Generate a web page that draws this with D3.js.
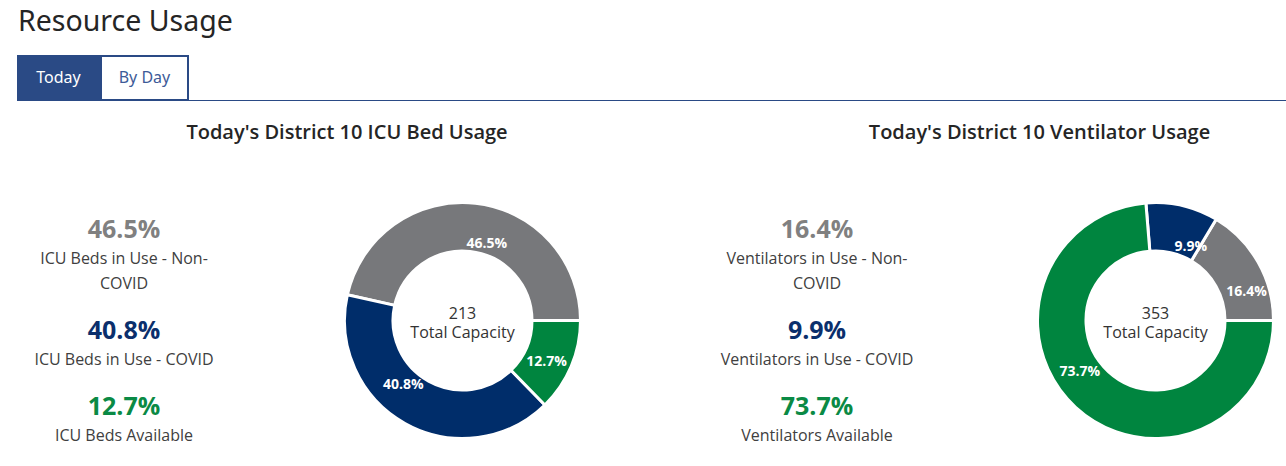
<!DOCTYPE html>
<html><head><meta charset="utf-8">
<script src="https://cdn.jsdelivr.net/npm/d3@7"></script>
<style>
html,body{margin:0;padding:0;background:#fff;}
svg{display:block;font-family:"Open Sans","Noto Sans",sans-serif;}
</style></head>
<body>
<svg id="c" width="1286" height="466"></svg>
<script>
const pageTitle = "Resource Usage";
const tabs = ["Today", "By Day"];
const chartTitles = ["Today's District 10 ICU Bed Usage", "Today's District 10 Ventilator Usage"];
const totals = [213, 353];
const icuLabels = ["ICU Beds in Use - Non-COVID", "ICU Beds in Use - COVID", "ICU Beds Available"];
const icuValues = [46.5, 40.8, 12.7];
const ventLabels = ["Ventilators in Use - Non-COVID", "Ventilators in Use - COVID", "Ventilators Available"];
const ventValues = [16.4, 9.9, 73.7];
const sliceColors = ["#77787b", "#002d6a", "#00853f"];
const legendColors = ["#808080", "#0b2f6c", "#0a8a45"];

const svg = d3.select("#c");

// page title
svg.append("text").attr("x", 18).attr("y", 31)
  .attr("font-size", 28.5).attr("fill", "#252525").attr("font-family", "'Noto Sans',sans-serif")
  .text(pageTitle);

// tabs
const tabX = d3.scaleOrdinal().domain(tabs).range([17, 100]);
const tabW = d3.scaleOrdinal().domain(tabs).range([83, 89]);
svg.append("line").attr("x1", 17).attr("x2", 1286).attr("y1", 100.5).attr("y2", 100.5)
  .attr("stroke", "#2a4a85").attr("stroke-width", 1);
tabs.forEach((t, i) => {
  const x = tabX(t), w = tabW(t);
  svg.append("rect").attr("x", x + (i ? 1 : 0)).attr("y", 55 + (i ? 1 : 0))
    .attr("width", w - (i ? 2 : 0)).attr("height", 45 - (i ? 1 : 0))
    .attr("fill", i ? "#fff" : "#2a4a85").attr("stroke", i ? "#2a4a85" : "none").attr("stroke-width", 2);
  svg.append("text").attr("x", x + w / 2).attr("y", 83).attr("text-anchor", "middle")
    .attr("font-size", 16).attr("fill", i ? "#3d5b98" : "#fff")
    .attr("font-family", "'Noto Sans',sans-serif").text(t);
});

function wrapText(sel, maxW) {
  sel.each(function () {
    const el = d3.select(this);
    const full = el.text();
    const tokens = [];
    full.split(/(\s+)/).forEach(part => {
      if (!part) return;
      if (/^\s+$/.test(part)) { tokens.push(part); return; }
      part.match(/[^-]*-|[^-]+/g).forEach(p => tokens.push(p));
    });
    const x = el.attr("x");
    el.text(null);
    let line = "";
    let tspan = el.append("tspan").attr("x", x).attr("dy", 0);
    tokens.forEach(tok => {
      const test = line + tok;
      tspan.text(test.trim());
      if (tspan.node().getComputedTextLength() > maxW && line.trim()) {
        tspan.text(line.trim());
        line = tok;
        tspan = el.append("tspan").attr("x", x).attr("dy", 25).text(tok.trim());
      } else {
        line = test;
      }
    });
  });
}

function drawPanel(cx, titleX, legendX, labels, values, total, title) {
  svg.append("text").attr("x", titleX).attr("y", 139).attr("text-anchor", "middle")
    .attr("font-size", 20).attr("font-weight", 600).attr("fill", "#252525").text(title);

  // legend
  const rowY = d3.scaleOrdinal().domain(labels).range([238, 339, 415]);
  labels.forEach((lab, i) => {
    const y = rowY(lab);
    svg.append("text").attr("x", legendX).attr("y", y).attr("text-anchor", "middle")
      .attr("font-size", 25).attr("font-weight", 700).attr("fill", legendColors[i])
      .text(d3.format(".1f")(values[i]) + "%");
    svg.append("text").attr("x", legendX).attr("y", y + 26).attr("text-anchor", "middle")
      .attr("font-size", 16).attr("fill", "#404040").text(lab)
      .call(wrapText, 205);
  });

  // donut
  const cy = 320.5, outerR = 118, innerR = 69.5;
  const pie = d3.pie().sort(null).value(d => d)
    .startAngle(Math.PI / 2).endAngle(Math.PI / 2 - 2 * Math.PI);
  const arcs = pie(values);
  const arc = d3.arc().innerRadius(innerR).outerRadius(outerR);
  const g = svg.append("g").attr("transform", `translate(${cx},${cy})`);
  g.selectAll("path").data(arcs).join("path")
    .attr("d", arc).attr("fill", (d, i) => sliceColors[i])
    .attr("stroke", "#fff").attr("stroke-width", 3).attr("stroke-linejoin", "miter");
  const shift = 8 * Math.PI / 180, rx = 98, ry = 80;
  g.selectAll("text.sl").data(arcs).join("text").attr("class", "sl")
    .attr("transform", d => {
      const a = (d.startAngle + d.endAngle) / 2 + shift;
      return `translate(${rx * Math.sin(a)},${-ry * Math.cos(a)})`;
    })
    .attr("text-anchor", "middle").attr("dy", "0.35em")
    .attr("font-size", 14).attr("font-weight", 700).attr("fill", "#fff")
    .text(d => d3.format(".1f")(d.data) + "%");

  g.append("text").attr("y", -2).attr("text-anchor", "middle")
    .attr("font-size", 16).attr("fill", "#333").text(total);
  g.append("text").attr("y", 17).attr("text-anchor", "middle")
    .attr("font-size", 16).attr("fill", "#333").text("Total Capacity");
}

drawPanel(462.5, 347, 124, icuLabels, icuValues, totals[0], chartTitles[0]);
drawPanel(1155.5, 1039.5, 817, ventLabels, ventValues, totals[1], chartTitles[1]);
</script>
</body></html>
